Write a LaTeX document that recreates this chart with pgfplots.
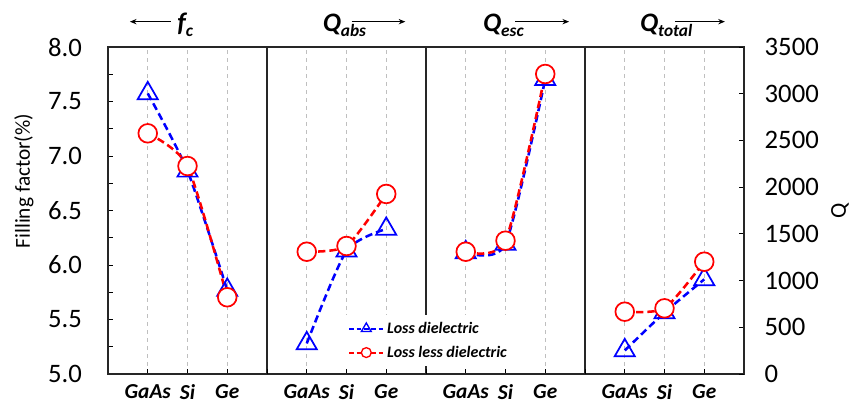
\documentclass[border=0pt]{standalone}
\usepackage{fontspec}
\setmainfont{Carlito}
\usepackage{pgfplots}
\pgfplotsset{compat=1.18}
\usetikzlibrary{arrows.meta,calc}
\definecolor{myblue}{RGB}{0,0,255}
\definecolor{myred}{RGB}{255,0,0}
\pgfplotsset{
  common/.style={
    scale only axis, width=477pt, height=245.25pt,
    xmin=0, xmax=16,
    /pgf/number format/assume math mode=true,
    tick align=inside,
    major tick length=4pt, minor tick length=4pt,
    tick style={black, line width=0.7pt},
    ticklabel style={font=\fontsize{20}{23}\selectfont},
    clip=false,
  },
  bluestyle/.style={myblue, line width=1.9pt, dash pattern=on 5.5pt off 3pt, smooth, tension=0.4,
    mark=triangle, mark size=8.7pt, mark options={solid, fill=white, line width=1.3pt}},
  redstyle/.style={myred, line width=1.9pt, dash pattern=on 5.5pt off 3pt, smooth, tension=0.4,
    mark=*, mark size=7pt, mark options={solid, fill=white, draw=myred, line width=1.3pt}},
}
\tikzset{titlefont/.style={anchor=base west, inner sep=0pt, font=\fontsize{20}{24}\selectfont\bfseries\itshape},
  tarrow/.style={-{Stealth[length=5pt,width=4pt]}, line width=0.75pt}}
\newcommand{\sub}[1]{\raisebox{-3.75pt}{\fontsize{13}{15}\selectfont #1}}
\begin{document}
\begin{tikzpicture}
\begin{axis}[common,
  ymin=5, ymax=8,
  axis line style={black!85, line width=0.8pt},
  xtick={1,2,3,5,6,7,9,10,11,13,14,15},
  xticklabels={GaAs,Si,Ge,GaAs,Si,Ge,GaAs,Si,Ge,GaAs,Si,Ge},
  xticklabel style={font=\fontsize{16}{19}\selectfont\bfseries\itshape, yshift=-4pt},
  xmajorgrids, major grid style={black!25, dashed, line width=0.5pt},
  extra x ticks={4,8,12}, extra x tick labels={},
  extra x tick style={grid=major, major grid style={black!85, solid, line width=0.8pt}},
  xtick pos=bottom, ytick pos=left,
  ytick distance=0.5, minor y tick num=1,
  yticklabel style={/pgf/number format/.cd, fixed, fixed zerofill, precision=1, /tikz/.cd, xshift=-16pt},
  ylabel={Filling factor(\%)},
  ylabel style={font=\fontsize{16}{19}\selectfont, inner sep=0pt, at={(rel axis cs:0,0.59)}, anchor=center, yshift=63pt},
]
\coordinate (SW) at (rel axis cs:0,0);
\coordinate (NE) at (rel axis cs:1,1);
\coordinate (A1s) at (axis cs:1.58,8);
\coordinate (A1e) at (axis cs:0.55,8);
\coordinate (T1) at (axis cs:1.74,8);
\coordinate (T2) at (axis cs:5.40,8);
\coordinate (A2s) at (axis cs:6.13,8);
\coordinate (A2e) at (axis cs:7.48,8);
\coordinate (T3) at (axis cs:9.43,8);
\coordinate (A3s) at (axis cs:10.24,8);
\coordinate (A3e) at (axis cs:11.60,8);
\coordinate (T4) at (axis cs:13.38,8);
\coordinate (A4s) at (axis cs:14.26,8);
\coordinate (A4e) at (axis cs:15.52,8);
\addplot[bluestyle] coordinates {(1,7.574) (2,6.864) (3,5.77)};
\addplot[redstyle] coordinates {(1,7.208) (2,6.908) (3,5.704)};
\end{axis}
\begin{axis}[common,
  ymin=0, ymax=3500,
  axis x line=none, axis y line*=right,
  axis line style={black!85, line width=0.8pt},
  ytick distance=500,
  yticklabel style={/pgf/number format/.cd, 1000 sep={}, /tikz/.cd, xshift=12pt},
  ylabel={Q},
  ylabel style={font=\fontsize{17}{20}\selectfont, inner sep=0pt, at={(rel axis cs:1,0.5)}, anchor=center, yshift=-72pt},
  legend style={at={(rel axis cs:0.371,0.18)}, anchor=north west, draw=none, fill=white,
    font=\fontsize{12}{14}\selectfont\bfseries\itshape, inner sep=3pt, row sep=4pt},
  legend cell align=left,
  legend image code/.code={\draw[mark repeat=2,mark phase=2] plot coordinates {(0cm,0cm) (0.45cm,0cm) (0.9cm,0cm)};},
]
\addplot[bluestyle, forget plot] coordinates {(5,327) (6,1319) (7,1552)};
\addplot[bluestyle, forget plot] coordinates {(9,1301) (10,1391) (11,3155)};
\addplot[bluestyle, forget plot] coordinates {(13,252) (14,658) (15,1013)};
\addplot[redstyle, forget plot] coordinates {(5,1309) (6,1370) (7,1927)};
\addplot[redstyle, forget plot] coordinates {(9,1309) (10,1427) (11,3211)};
\addplot[redstyle, forget plot] coordinates {(13,667) (14,703) (15,1202)};
\addlegendimage{myblue, line width=1.5pt, dash pattern=on 3.5pt off 2pt, mark=triangle, mark size=4.3pt, mark options={solid, fill=white, line width=1pt}}
\addlegendentry{Loss dielectric}
\addlegendimage{myred, line width=1.5pt, dash pattern=on 3.5pt off 2pt, mark=*, mark size=3.7pt, mark options={solid, fill=white, draw=myred, line width=1pt}}
\addlegendentry{Loss less dielectric}
\end{axis}
\draw[tarrow] ($(A1s)+(0,19pt)$) -- ($(A1e)+(0,19pt)$);
\node[titlefont] at ($(T1)+(0,11.25pt)$) {f\sub{c}};
\node[titlefont] at ($(T2)+(0,11.25pt)$) {Q\sub{abs}};
\draw[tarrow] ($(A2s)+(0,19pt)$) -- ($(A2e)+(0,19pt)$);
\node[titlefont] at ($(T3)+(0,11.25pt)$) {Q\sub{esc}};
\draw[tarrow] ($(A3s)+(0,19pt)$) -- ($(A3e)+(0,19pt)$);
\node[titlefont] at ($(T4)+(0,11.25pt)$) {Q\sub{total}};
\draw[tarrow] ($(A4s)+(0,19pt)$) -- ($(A4e)+(0,19pt)$);
\path ($(SW)+(-81pt,-20.25pt)$) rectangle ($(NE)+(79.5pt,35.25pt)$);
\end{tikzpicture}
\end{document}
